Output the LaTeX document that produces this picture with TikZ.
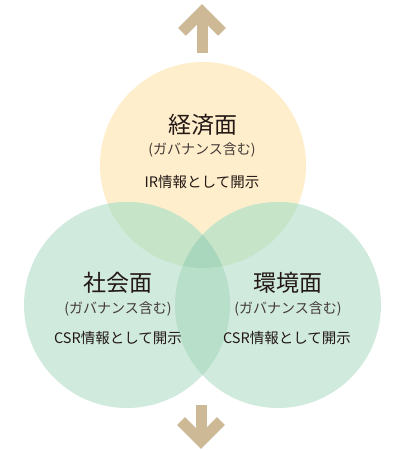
\documentclass[tikz,border=0pt]{standalone}
\usepackage{fontspec}
\newfontfamily\jp{Noto Sans CJK JP}
\definecolor{cyellow}{HTML}{FEEECC}
\definecolor{cgreen}{HTML}{D1EADE}
\definecolor{ctopgreen}{HTML}{C6E4C8}
\definecolor{clens}{HTML}{B8DFCA}
\definecolor{ccenter}{HTML}{A8D7BD}
\definecolor{carrow}{HTML}{CDB995}
\definecolor{ctext}{HTML}{231815}
\tikzset{
  title/.style={text=ctext,font=\jp\fontsize{23}{25}\selectfont,inner sep=0pt},
  sub/.style={text=ctext!85,font=\jp\fontsize{14}{16}\selectfont,inner sep=0pt},
  info/.style={text=ctext,font=\jp\fontsize{14.5}{16}\selectfont,inner sep=0pt},
  arrowline/.style={draw=carrow,line width=11pt,line cap=butt,line join=miter}
}
\begin{document}
\begin{tikzpicture}[x=1pt,y=-1pt]
\useasboundingbox (0,0) rectangle (398,450);
\def\R{103}
\coordinate (ct) at (203,165);
\coordinate (cl) at (127,305);
\coordinate (cr) at (278,305);
% base circles
\fill[cyellow] (ct) circle (\R);
\fill[cgreen] (cl) circle (\R);
\fill[cgreen] (cr) circle (\R);
% lens left/right
\begin{scope}
  \clip (cl) circle (\R);
  \fill[clens] (cr) circle (\R);
\end{scope}
% top with left / right
\begin{scope}
  \clip (ct) circle (\R);
  \fill[ctopgreen] (cl) circle (\R);
  \fill[ctopgreen] (cr) circle (\R);
  \clip (cl) circle (\R);
  \fill[ccenter] (cr) circle (\R);
\end{scope}
% texts
\node[title] (t1) at (203,125) {経済面};
\node[sub] (s1) at (202,150) {(ガバナンス含む)};
\node[info] (i1) at (202,182) {IR情報として開示};
\node[title] (t2) at (118,283) {社会面};
\node[sub] (s2) at (118,309) {(ガバナンス含む)};
\node[info] (i2) at (118,338) {CSR情報として開示};
\node[title] (t3) at (288,283) {環境面};
\node[sub] (s3) at (288,309) {(ガバナンス含む)};
\node[info] (i3) at (287,338) {CSR情報として開示};
% top arrow
\coordinate (uptip) at (202,11.8);
\coordinate (upl) at (182,31.8);
\coordinate (upr) at (222,31.8);
\coordinate (upbase) at (202,53);
\draw[arrowline] (upl) -- (uptip) -- (upr);
\draw[arrowline] (uptip) -- (upbase);
% bottom arrow
\coordinate (dntip) at (201,441);
\coordinate (dnl) at (181,421);
\coordinate (dnr) at (221,421);
\coordinate (dnbase) at (201,405);
\draw[arrowline] (dnl) -- (dntip) -- (dnr);
\draw[arrowline] (dntip) -- (dnbase);
\end{tikzpicture}
\end{document}
